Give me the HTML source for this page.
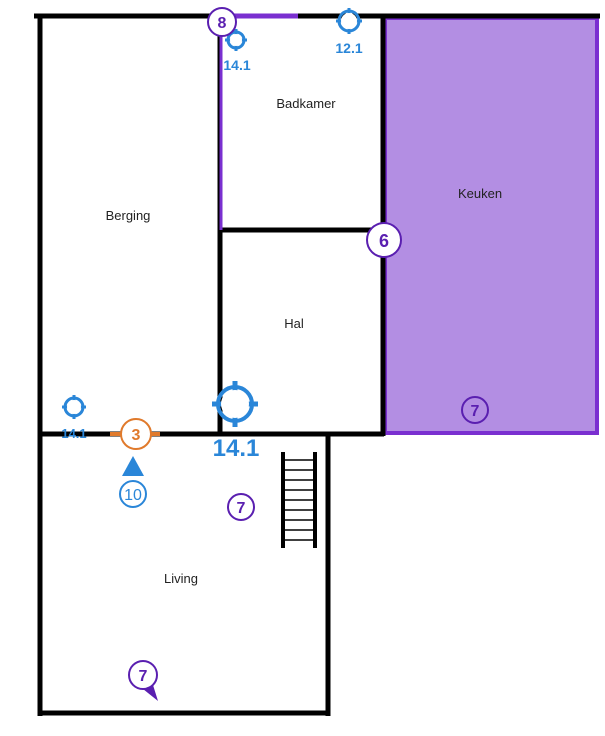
<!DOCTYPE html>
<html><head><style>body{margin:0;background:#fff}svg{display:block}</style></head><body>
<svg width="605" height="736" xmlns="http://www.w3.org/2000/svg" font-family="Liberation Sans, sans-serif">
<rect x="385" y="18" width="212" height="415" fill="#b38ee3" stroke="#7a2fd0" stroke-width="4"/>
<g stroke="#000" stroke-width="5" fill="none">
<line x1="34" y1="16" x2="600" y2="16"/>
<line x1="40" y1="16" x2="40" y2="716"/>
<line x1="38" y1="713" x2="330" y2="713"/>
<line x1="328" y1="432" x2="328" y2="716"/>
<line x1="38" y1="434" x2="384" y2="434"/>
<line x1="220" y1="16" x2="220" y2="436"/>
<line x1="220" y1="230" x2="384" y2="230"/>
<line x1="383" y1="16" x2="383" y2="436"/>
</g>
<line x1="221" y1="20" x2="221" y2="230" stroke="#7a2fd0" stroke-width="3"/>
<line x1="222" y1="16" x2="298" y2="16" stroke="#7a2fd0" stroke-width="5"/>
<g stroke="#000" stroke-width="4"><line x1="283" y1="452" x2="283" y2="548"/><line x1="315" y1="452" x2="315" y2="548"/></g>
<g stroke="#000" stroke-width="1.5">
<line x1="283" y1="460" x2="315" y2="460"/><line x1="283" y1="470" x2="315" y2="470"/><line x1="283" y1="480" x2="315" y2="480"/><line x1="283" y1="490" x2="315" y2="490"/><line x1="283" y1="500" x2="315" y2="500"/><line x1="283" y1="510" x2="315" y2="510"/><line x1="283" y1="520" x2="315" y2="520"/><line x1="283" y1="530" x2="315" y2="530"/><line x1="283" y1="540" x2="315" y2="540"/></g>
<g font-size="13" fill="#222" text-anchor="middle">
<text x="306" y="108">Badkamer</text><text x="128" y="220">Berging</text><text x="480" y="198">Keuken</text><text x="294" y="328">Hal</text><text x="181" y="583">Living</text></g>
<g fill="none" stroke="#2a86d8" stroke-width="3">
<circle cx="236" cy="40" r="8"/><circle cx="349" cy="21" r="10"/><circle cx="74" cy="407" r="9"/><circle cx="235" cy="404" r="17" stroke-width="4"/>
<circle cx="133" cy="494" r="13" stroke-width="2"/></g>
<g stroke="#2a86d8" stroke-width="3">
<line x1="236" y1="29" x2="236" y2="51"/><line x1="225" y1="40" x2="247" y2="40"/>
<line x1="349" y1="8" x2="349" y2="34"/><line x1="336" y1="21" x2="362" y2="21"/>
<line x1="74" y1="395" x2="74" y2="419"/><line x1="62" y1="407" x2="86" y2="407"/>
<line x1="235" y1="381" x2="235" y2="427" stroke-width="5"/><line x1="212" y1="404" x2="258" y2="404" stroke-width="5"/></g>
<circle cx="236" cy="40" r="6" fill="#fff"/><circle cx="349" cy="21" r="8" fill="#fff"/><circle cx="74" cy="407" r="7" fill="#fff"/><circle cx="235" cy="404" r="14" fill="#fff"/>
<polygon points="133,456 122,476 144,476" fill="#2a86d8"/>
<g fill="#2a86d8" font-weight="bold" text-anchor="middle">
<text x="237" y="70" font-size="14">14.1</text><text x="349" y="53" font-size="14">12.1</text><text x="74" y="438" font-size="13">14.1</text><text x="236" y="456" font-size="24">14.1</text></g>
<text x="133" y="500" fill="#2a86d8" font-size="16" text-anchor="middle">10</text>
<line x1="110" y1="434" x2="160" y2="434" stroke="#e07a2c" stroke-width="4"/>
<circle cx="136" cy="434" r="15" fill="#fff" stroke="#e07a2c" stroke-width="2"/>
<text x="136" y="440" fill="#e07a2c" font-size="16" font-weight="bold" text-anchor="middle">3</text>
<g fill="#fff" stroke="#5a1fb0" stroke-width="2">
<circle cx="222" cy="22" r="14"/><circle cx="384" cy="240" r="17"/><circle cx="241" cy="507" r="13"/><circle cx="475" cy="410" r="13" fill="none"/><circle cx="143" cy="675" r="14"/></g>
<polygon points="143,689 158,701 153,685" fill="#5a1fb0"/>
<g fill="#5a1fb0" font-weight="bold" text-anchor="middle" font-size="16">
<text x="222" y="28">8</text><text x="384" y="247" font-size="18">6</text><text x="241" y="513">7</text><text x="475" y="416">7</text><text x="143" y="681">7</text></g>
</svg>
</body></html>
